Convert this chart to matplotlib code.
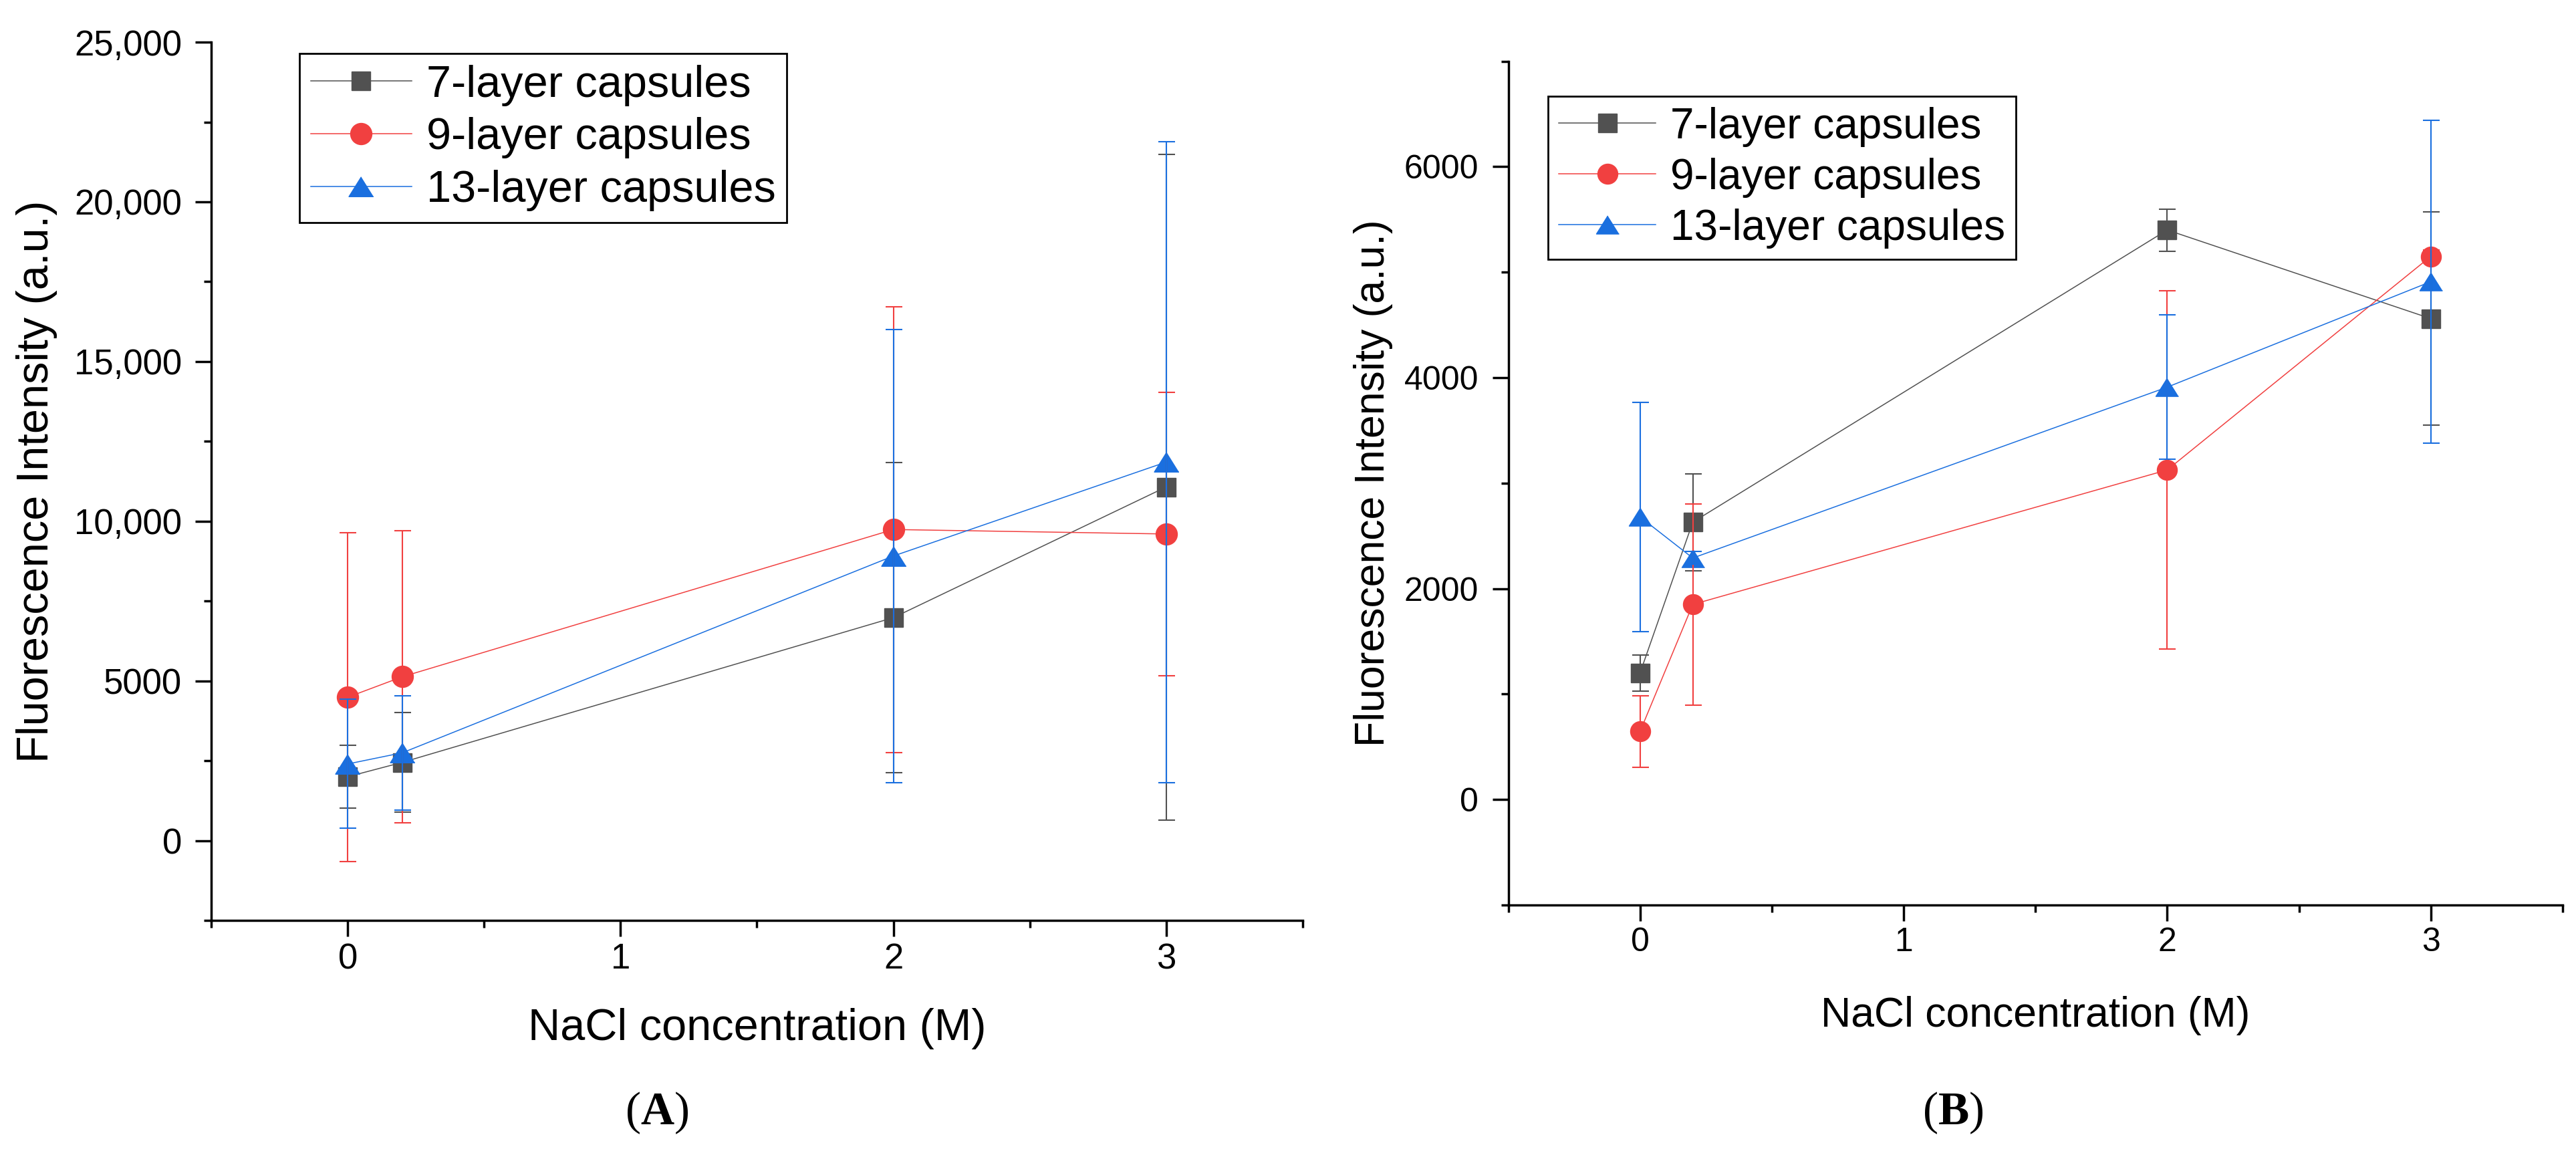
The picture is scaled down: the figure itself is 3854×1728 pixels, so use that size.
import numpy as np
import matplotlib
matplotlib.use("Agg")
import matplotlib.pyplot as plt
from matplotlib.ticker import MultipleLocator, FuncFormatter

plt.rcParams['font.family'] = ['Liberation Sans', 'DejaVu Sans']
plt.rcParams['mathtext.fontset'] = 'custom'
plt.rcParams['mathtext.rm'] = 'Liberation Serif'
plt.rcParams['mathtext.bf'] = 'Liberation Serif:bold'

nacl = [0, 0.2, 2, 3]
labels = ["7-layer capsules", "9-layer capsules", "13-layer capsules"]
colors = ["#515151", "#F14040", "#1A6FDF"]

# panel A
a_7 = [2000, 2450, 6980, 11070]
a_7_err = [985, 1550, 4860, 10420]
a_9 = [4490, 5130, 9740, 9600]
a_9_err = [5150, 4570, 6980, 4430]
a_13 = [2400, 2750, 8910, 11850]
a_13_err = [2020, 1790, 7100, 10030]

# panel B
b_7 = [1200, 2630, 5400, 4560]
b_7_err = [170, 460, 200, 1010]
b_9 = [645, 1850, 3125, 5150]
b_9_err = [340, 955, 1700, 60]
b_13 = [2680, 2290, 3910, 4910]
b_13_err = [1085, 60, 685, 1530]

tri = [(0, 0.8), (-1, -0.8), (1, -0.8)]


def thousands(v, pos):
    if abs(v) >= 10000:
        return f"{v:,.0f}"
    return f"{v:.0f}"


def draw_panel(ax, ys, errs, sizes, ylim, ymajor, yminor, tick_fs, label_fs, leg_fs, leg_anchor, ylab_x, xlab_y):
    markers = ['s', 'o', tri]
    for y, c, m, s, lab in zip(ys, colors, markers, sizes, labels):
        ax.plot(nacl, y, color=c, lw=1.1, marker=m, ms=s, mec=c, mfc=c, label=lab, zorder=2)
    for y, e, c in zip(ys, errs, colors):
        ax.errorbar(nacl, y, yerr=e, fmt='none', ecolor=c, elinewidth=1.5,
                    capsize=9, capthick=1.5, zorder=3)

    ax.set_xlim(-0.5, 3.5)
    ax.set_ylim(*ylim)
    ax.xaxis.set_major_locator(MultipleLocator(1))
    ax.xaxis.set_minor_locator(MultipleLocator(0.5))
    ax.yaxis.set_major_locator(MultipleLocator(ymajor))
    ax.yaxis.set_minor_locator(MultipleLocator(yminor))
    ax.yaxis.set_major_formatter(FuncFormatter(thousands))

    for side in ['top', 'right']:
        ax.spines[side].set_visible(False)
    for side in ['left', 'bottom']:
        ax.spines[side].set_linewidth(2.5)

    ax.tick_params(which='major', direction='out', length=17, width=2.5, labelsize=tick_fs)
    ax.tick_params(axis='y', which='major', pad=15)
    ax.tick_params(axis='x', which='major', pad=7)
    ax.tick_params(which='minor', direction='out', length=8, width=2.5)

    ax.set_xlabel("NaCl concentration (M)", fontsize=label_fs)
    ax.set_ylabel("Fluorescence Intensity (a.u.)", fontsize=label_fs)
    ax.xaxis.set_label_coords(0.5, xlab_y)
    ax.yaxis.set_label_coords(ylab_x, 0.5)

    leg = ax.legend(loc='upper left', bbox_to_anchor=leg_anchor, borderaxespad=0,
                    fancybox=False, edgecolor='black', framealpha=1, fontsize=leg_fs,
                    handlelength=2.27, handletextpad=0.33, labelspacing=0.25,
                    borderpad=0.25, numpoints=1)
    leg.get_frame().set_linewidth(2)


fig = plt.figure(figsize=(38.54, 17.28), dpi=100)

axA = fig.add_axes([0.0821, 0.2031, 0.4235, 0.7604])
draw_panel(axA, [a_7, a_9, a_13], [a_7_err, a_9_err, a_13_err], [20, 23, 26.6],
           (-2500, 25000), 5000, 2500, 38, 48, 48, (0.0806, 0.987), -0.141, -0.100)

axB = fig.add_axes([0.5855, 0.2164, 0.4093, 0.7306])
draw_panel(axB, [b_7, b_9, b_13], [b_7_err, b_9_err, b_13_err], [19.5, 21.6, 24.5],
           (-1000, 7000), 2000, 1000, 36, 45, 46, (0.038, 0.9586), -0.1095, -0.108)

fig.text(0.255, 0.0365, r"($\mathbf{A}$)", ha='center', va='center', fontsize=50,
         family='Liberation Serif')
fig.text(0.758, 0.0365, r"($\mathbf{B}$)", ha='center', va='center', fontsize=50,
         family='Liberation Serif')

fig.savefig("out.png", dpi=100)
